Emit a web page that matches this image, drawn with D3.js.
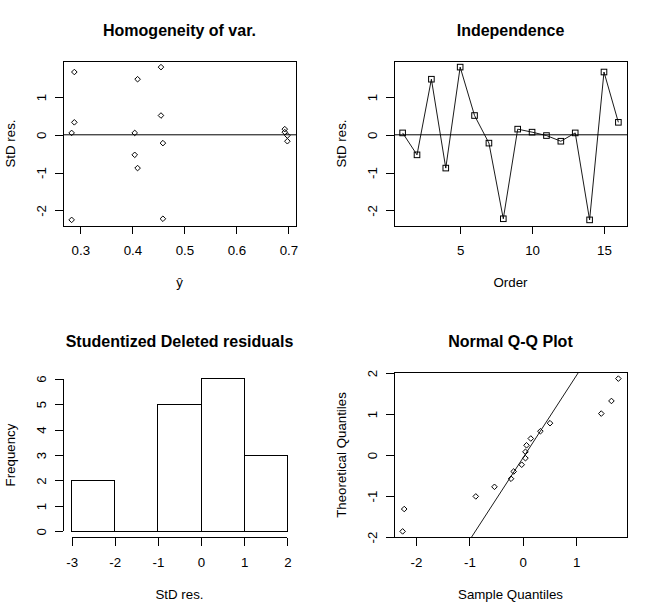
<!DOCTYPE html>
<meta charset="utf-8" />
<script src="https://d3js.org/d3.v7.min.js"></script>
<body style="margin:0;background:#fff">
<svg id="chart" width="653" height="615" style="display:block;background:#fff"></svg>
<script>
/* DATA ------------------------------------------------------------------- */
const order   = [1,2,3,4,5,6,7,8,9,10,11,12,13,14,15,16];
const stdRes  = [0.05,-0.53,1.47,-0.88,1.79,0.51,-0.22,-2.22,0.15,0.07,-0.02,-0.17,0.05,-2.25,1.66,0.33];
const fitted  = [0.4045,0.4045,0.41,0.41,0.455,0.455,0.4587,0.4587,0.693,0.693,0.698,0.698,0.2832,0.2832,0.2884,0.2884];
// theoretical normal quantiles for the 16 sorted residuals
const theoQ   = [-1.863,-1.318,-1.010,-0.776,-0.579,-0.402,-0.237,-0.078,
                  0.078, 0.237, 0.402, 0.579, 0.776, 1.010, 1.318, 1.863];
const histBreaks  = [-3,-2,-1,0,1,2];
const yhatTicks   = [0.3,0.4,0.5,0.6,0.7];
const resTicks    = [-2,-1,0,1];
const orderTicks  = [5,10,15];
const freqTicks   = [0,1,2,3,4,5,6];
const sampleTicks = [-2,-1,0,1];
const theoTicks   = [-2,-1,0,1,2];
const titles = ["Homogeneity of var.","Independence","Studentized Deleted residuals","Normal Q-Q Plot"];

/* LAYOUT ----------------------------------------------------------------- */
const colX=[63,394], rowY=[61,372.5], W=233, H=165;
const font='"Liberation Sans",Arial,Helvetica,sans-serif';
const zq=0.6745;   // qnorm(0.75)

const svg=d3.select("#chart").attr("font-family",font);
const pad=e=>{const d=(e[1]-e[0])*0.04;return [e[0]-d,e[1]+d];};
const diamond=r=>`M0,${-r}L${r},0L0,${r}L${-r},0Z`;

function panel(i,j,title,xlab,ylab,boxed){
  const g=svg.append("g").attr("transform",`translate(${colX[j]},${rowY[i]})`);
  g.append("clipPath").attr("id",`clip${i}${j}`)
    .append("rect").attr("width",W).attr("height",H);
  g.append("text").attr("x",W/2).attr("y",-25.5).attr("text-anchor","middle")
    .attr("font-size","16px").attr("font-weight","bold").text(title);
  g.append("text").attr("x",W/2).attr("y",H+61).attr("text-anchor","middle")
    .attr("font-size","13.3px").text(xlab);
  g.append("text").attr("transform",`translate(-48.5,${H/2}) rotate(-90)`)
    .attr("text-anchor","middle").attr("font-size","13.3px").text(ylab);
  if(boxed) g.append("rect").attr("width",W).attr("height",H)
    .attr("fill","none").attr("stroke","#000").attr("shape-rendering","crispEdges");
  return g;
}
function xAxis(g,x,ticks){
  const a=g.append("g").attr("transform",`translate(0,${H})`)
    .call(d3.axisBottom(x).tickValues(ticks).tickFormat(d=>String(d)).tickSize(8));
  a.attr("font-family",font).attr("font-size","13.3px").attr("shape-rendering","crispEdges");
  a.select(".domain").remove();
  a.append("line").attr("x1",x(ticks[0])).attr("x2",x(ticks[ticks.length-1])).attr("stroke","#000");
  a.selectAll("text").attr("y",29).attr("dy",null).attr("fill","#000");
}
function yAxis(g,y,ticks){
  const a=g.append("g")
    .call(d3.axisLeft(y).tickValues(ticks).tickFormat(d=>String(d)).tickSize(8));
  a.attr("font-family",font).attr("font-size","13.3px").attr("shape-rendering","crispEdges");
  a.select(".domain").remove();
  a.append("line").attr("y1",y(ticks[0])).attr("y2",y(ticks[ticks.length-1])).attr("stroke","#000");
  a.selectAll("text").attr("transform","rotate(-90)").attr("x",0).attr("y",-17.5)
    .attr("dy",null).attr("text-anchor","middle").attr("fill","#000");
}

/* 1. Homogeneity of variance -------------------------------------------- */
{
  const g=panel(0,0,titles[0],"ŷ","StD res.",true);
  const x=d3.scaleLinear(pad(d3.extent(fitted)),[0,W]);
  const y=d3.scaleLinear(pad(d3.extent(stdRes)),[H,0]);
  xAxis(g,x,yhatTicks); yAxis(g,y,resTicks);
  g.append("line").attr("clip-path","url(#clip00)").attr("x1",0).attr("x2",W)
    .attr("y1",y(0)).attr("y2",y(0)).attr("stroke","#000");
  g.selectAll("path.pt").data(fitted).join("path").attr("class","pt")
    .attr("transform",(d,k)=>`translate(${x(d)},${y(stdRes[k])})`)
    .attr("d",diamond(2.8)).attr("fill","none").attr("stroke","#000");
}

/* 2. Independence -------------------------------------------------------- */
{
  const g=panel(0,1,titles[1],"Order","StD res.",true);
  const x=d3.scaleLinear(pad(d3.extent(order)),[0,W]);
  const y=d3.scaleLinear(pad(d3.extent(stdRes)),[H,0]);
  xAxis(g,x,orderTicks); yAxis(g,y,resTicks);
  g.append("line").attr("clip-path","url(#clip01)").attr("x1",0).attr("x2",W)
    .attr("y1",y(0)).attr("y2",y(0)).attr("stroke","#000");
  g.append("path").datum(order)
    .attr("d",d3.line().x(d=>x(d)).y((d,k)=>y(stdRes[k])))
    .attr("fill","none").attr("stroke","#000").attr("stroke-width",0.9);
  g.selectAll("rect.pt").data(order).join("rect").attr("class","pt")
    .attr("x",d=>x(d)-2.8).attr("y",(d,k)=>y(stdRes[k])-2.8)
    .attr("width",5.6).attr("height",5.6).attr("fill","none").attr("stroke","#000");
}

/* 3. Histogram ----------------------------------------------------------- */
{
  const g=panel(1,0,titles[2],"StD res.","Frequency",false);
  const bins=d3.bin().domain([histBreaks[0],histBreaks[histBreaks.length-1]])
    .thresholds(histBreaks.slice(1,-1))(stdRes);
  const x=d3.scaleLinear(pad(d3.extent(histBreaks)),[0,W]);
  const y=d3.scaleLinear(pad([0,d3.max(bins,b=>b.length)]),[H,0]);
  xAxis(g,x,histBreaks); yAxis(g,y,freqTicks);
  g.selectAll("path.bar").data(bins).join("path").attr("class","bar")
    .attr("d",b=>`M${x(b.x0)},${y(0)}V${y(b.length)}H${x(b.x1)}V${y(0)}Z`)
    .attr("fill","none").attr("stroke","#000").attr("shape-rendering","crispEdges");
}

/* 4. Normal Q-Q plot (sample on x) --------------------------------------- */
{
  const g=panel(1,1,titles[3],"Sample Quantiles","Theoretical Quantiles",true);
  const sorted=stdRes.slice().sort(d3.ascending);
  const x=d3.scaleLinear(pad(d3.extent(sorted)),[0,W]);
  const y=d3.scaleLinear(pad(d3.extent(theoQ)),[H,0]);
  xAxis(g,x,sampleTicks); yAxis(g,y,theoTicks);
  const q1=d3.quantile(sorted,0.25), q3=d3.quantile(sorted,0.75);
  const slope=(q3-q1)/(2*zq), icpt=q1+slope*zq;
  const [xa,xb]=x.domain();
  g.append("line").attr("clip-path","url(#clip11)")
    .attr("x1",x(xa)).attr("y1",y((xa-icpt)/slope))
    .attr("x2",x(xb)).attr("y2",y((xb-icpt)/slope))
    .attr("stroke","#000").attr("stroke-width",0.9);
  g.selectAll("path.pt").data(sorted).join("path").attr("class","pt")
    .attr("transform",(d,k)=>`translate(${x(d)},${y(theoQ[k])})`)
    .attr("d",diamond(2.8)).attr("fill","none").attr("stroke","#000");
}
</script>
</body>
